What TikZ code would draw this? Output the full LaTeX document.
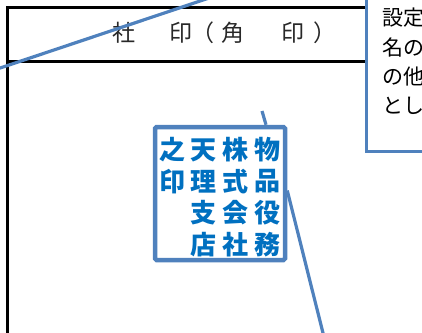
\documentclass[tikz,border=0pt]{standalone}
\usepackage{fontspec}
\newfontfamily\cjk{Noto Sans CJK JP}
\usetikzlibrary{calc}
\definecolor{lblue}{RGB}{79,129,189}
\definecolor{tblue}{RGB}{0,112,192}
\definecolor{tgray}{RGB}{40,40,40}
\begin{document}
\begin{tikzpicture}[x=1pt,y=-1pt,
  frameline/.style={line width=3pt,black},
  leader/.style={line width=3.2pt,draw=lblue},
  titletext/.style={font=\cjk\fontsize{23}{23}\selectfont,text=tgray,inner sep=0pt,anchor=west},
  stampbox/.style={draw=lblue,line width=4.5pt,fill=white,rounded corners=1.5pt,minimum width=130pt,minimum height=133pt,inner sep=0pt},
  stampchar/.style={font=\cjk\bfseries\fontsize{26}{26}\selectfont,text=tblue,inner sep=0pt},
  notebox/.style={draw=lblue,line width=2.8pt,fill=white,anchor=north west,minimum width=80pt,minimum height=162pt,inner sep=0pt},
  notetext/.style={font=\cjk\fontsize{21}{21}\selectfont,text=black,anchor=west,inner sep=0pt}]
\useasboundingbox (0,0) rectangle (422,332);
\clip (0,0) rectangle (422,332);
% table frame
\draw[frameline] (7,345) -- (7,7) -- (372,7);
\draw[frameline] (7,61) -- (372,61);
\node[titletext] (ttl) at (112,33) {社\hspace{34.5pt}印\hspace{-1.5pt}（\hspace{7pt}角\hspace{37pt}印\hspace{9pt}）};
% leader crossing title
\coordinate (l1a) at (230,-9);
\coordinate (l1b) at (-10,71.4);
\draw[leader] (l1a) -- (l1b);
% stamp
\node[stampbox] (stamp) at (220,193.5) {};
\foreach \col/\x/\chars in {4/267/{物,品,役,務},3/235/{株,式,会,社},2/203/{天,理,支,店}}{
  \foreach \ch [count=\r] in \chars {
    \node[stampchar] (s\col\r) at (\x,{150+31.5*(\r-1)}) {\ch};
  }
}
\node[stampchar] (s11) at (172,150) {之};
\node[stampchar] (s12) at (172,181.5) {印};
% leaders to stamp
\coordinate (l2a) at (262,111);
\draw[leader] (l2a) -- ($(stamp.north)+(46,0)$);
\coordinate (l3b) at (326,345);
\draw[leader] ($(stamp.east)+(0,-3)$) -- (l3b);
% note callout
\node[notebox] (note) at (365,-12) {};
\node[notetext] (n1) at (382,18) {設定};
\node[notetext] (n2) at (382,47.5) {名の};
\node[notetext] (n3) at (382,77) {の他};
\node[notetext] (n4) at (382,106) {とし};
\end{tikzpicture}
\end{document}
